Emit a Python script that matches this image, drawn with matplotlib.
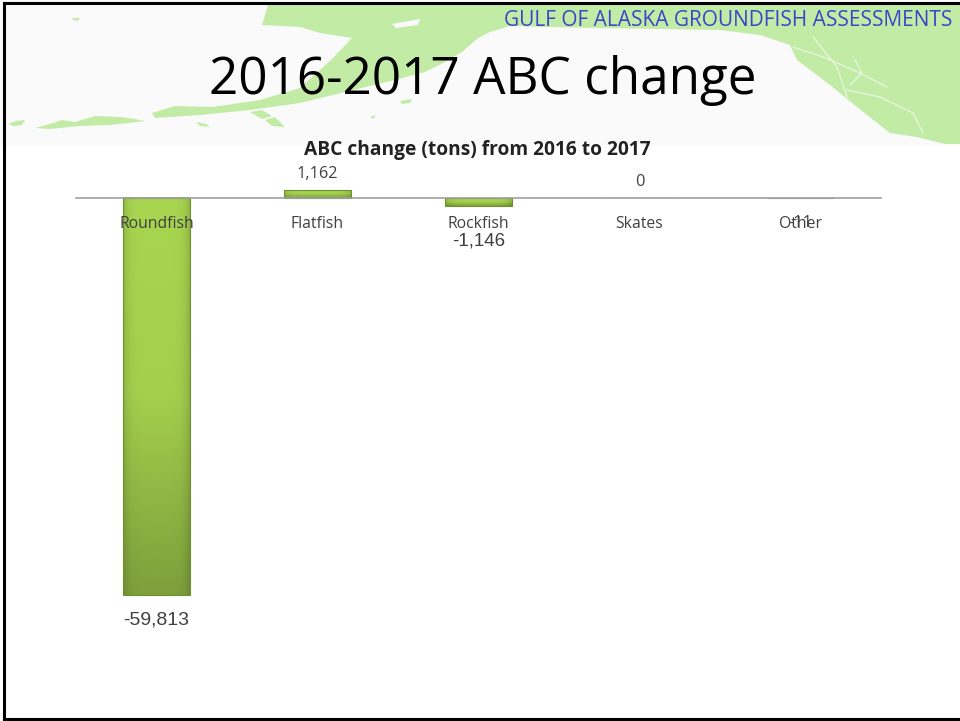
import numpy as np
import matplotlib
matplotlib.use("Agg")
import matplotlib.pyplot as plt
from matplotlib.patches import Polygon, Rectangle

categories = ["Roundfish", "Flatfish", "Rockfish", "Skates", "Other"]
changes = [-59813, 1162, -1146, 0, -11]
value_labels = ["-59,813", "1,162", "-1,146", "0", "-11"]

W, H = 960, 721
fig = plt.figure(figsize=(W / 100, H / 100), dpi=100, facecolor="white")

# ---- slide background (map decoration), pixel coordinates
bg = fig.add_axes([0, 0, 1, 1], zorder=0)
bg.set_xlim(0, W); bg.set_ylim(H, 0); bg.axis("off")
bg.add_patch(Rectangle((0, 0), W, 146, fc="#fafafa", ec="none"))
land = "#c2eba6"
shapes = [
    [(8, 124), (16, 121), (25, 120), (22, 125), (14, 126)],
    [(35, 128), (50, 124), (62, 120), (75, 122), (95, 116), (120, 117), (135, 119), (145, 121), (110, 125), (80, 126), (50, 129)],
    [(152, 113), (175, 106), (213, 107), (260, 100), (300, 88), (333, 58), (352, 38), (320, 33), (300, 27), (262, 25),
     (268, 5), (960, 5), (960, 144), (945, 144), (917, 137), (890, 133), (857, 107), (830, 85), (797, 60),
     (790, 45), (760, 35), (720, 30), (660, 29), (600, 28), (550, 27), (510, 26), (490, 32), (478, 38), (462, 52),
     (445, 62), (425, 72), (395, 80), (345, 92), (300, 103), (250, 110), (200, 115), (155, 118)],
    [(250, 112), (262, 110), (272, 116), (262, 119)],
    [(265, 120), (275, 117), (285, 127), (272, 126)],
    [(196, 122), (206, 124), (210, 127), (200, 126)],
    [(370, 117), (376, 115), (373, 119)],
    [(400, 101), (412, 99), (410, 103), (402, 104)],
    [(72, 18), (80, 18), (78, 21), (73, 20)],
]
for s in shapes:
    bg.add_patch(Polygon(s, closed=True, fc=land, ec="none"))
bg.add_patch(Polygon([(392, 24), (420, 19), (418, 25), (396, 28)], closed=True, fc="#fafafa", ec="none"))
fjords = [
    [(813, 37), (837, 67), (847, 97)],
    [(793, 47), (823, 57), (860, 73), (887, 87)],
    [(847, 90), (880, 97), (913, 113), (923, 133)],
    [(855, 60), (862, 73), (850, 85)],
]
for f in fjords:
    bg.plot(*zip(*f), color="#eef8e8", lw=0.8)

# slide frame
bg.plot([4, 4], [3, 719], color="black", lw=2.2)
bg.plot([4, 960], [3, 3], color="black", lw=2.2)
bg.plot([4, 960], [719, 719], color="black", lw=2.2)

sans = ["Open Sans", "DejaVu Sans"]
bg.text(483, 81, "2016-2017 ABC change", ha="center", va="center", fontsize=36.9, color="black", family=sans)
bg.text(952, 20, "GULF OF ALASKA GROUNDFISH ASSESSMENTS", ha="right", va="center", fontsize=15.0,
        color="#3a46c8", family=sans)
bg.text(477, 150.5, "ABC change (tons) from 2016 to 2017", ha="center", va="center", fontsize=13.8,
        fontweight="bold", color="#222222", family=sans)

# ---- chart, axes placed so that 0 is at y=198 px and 59,813 spans 397 px
k = 397 / 59813
top_px, bot_px = 170, 650
left_px, right_px = 76, 881
ax = fig.add_axes([left_px / W, 1 - bot_px / H, (right_px - left_px) / W, (bot_px - top_px) / H], zorder=1)
ax.patch.set_alpha(0)
ylim = (-(bot_px - 198) / k, (198 - top_px) / k)

x = np.arange(len(categories))
bars = ax.bar(x, changes, width=0.41, color="none", edgecolor="#6f8f30", linewidth=0.8, zorder=3)

cmap = matplotlib.colors.LinearSegmentedColormap.from_list("g", ["#a8d650", "#a3cf4d", "#7e9f3c"])
rows = cmap(np.linspace(0, 1, 256))[:, :3]
cols = 1 - 0.14 * np.abs(np.linspace(-1, 1, 64)) ** 6
grad = rows[:, None, :] * cols[None, :, None]
for b, v in zip(bars, changes):
    if abs(v) < 100:
        b.set_edgecolor("#dddddd" if v == 0 else "#8f8f80")
        continue
    x0, w = b.get_x(), b.get_width()
    y_hi, y_lo = max(0, v), min(0, v)
    ax.imshow(grad, extent=[x0, x0 + w, y_lo, y_hi], aspect="auto", zorder=2, origin="upper")
ax.set_xlim(-0.5, 4.5)
ax.set_ylim(*ylim)

for s in ("top", "left", "right"):
    ax.spines[s].set_visible(False)
ax.spines["bottom"].set_position(("data", 0))
ax.spines["bottom"].set_color("#a0a0a0")
ax.spines["bottom"].set_linewidth(1.2)
ax.spines["bottom"].set_zorder(4)
ax.set_yticks([])
ax.set_xticks(x)
ax.set_xticklabels(categories, fontsize=11.3, color="#404040", family=sans)
ax.tick_params(axis="x", length=0, pad=13)
ax.xaxis.set_zorder(6)

offsets_px = [25, 16, 35, 16, 25]
sizes = [14, 11.8, 13.5, 11.8, 11.8]
for xi, v, lab, off, fs in zip(x, changes, value_labels, offsets_px, sizes):
    arial = v < -1000
    sign = 1 if v >= 0 else -1
    ax.annotate(lab, (xi, v), xytext=(0, sign * off * 0.72), textcoords="offset points", ha="center", va="center",
                fontsize=fs, color="#404040",
                family=["Liberation Sans"] if arial else sans, zorder=7)

fig.savefig("out.png", dpi=100, facecolor="white")
